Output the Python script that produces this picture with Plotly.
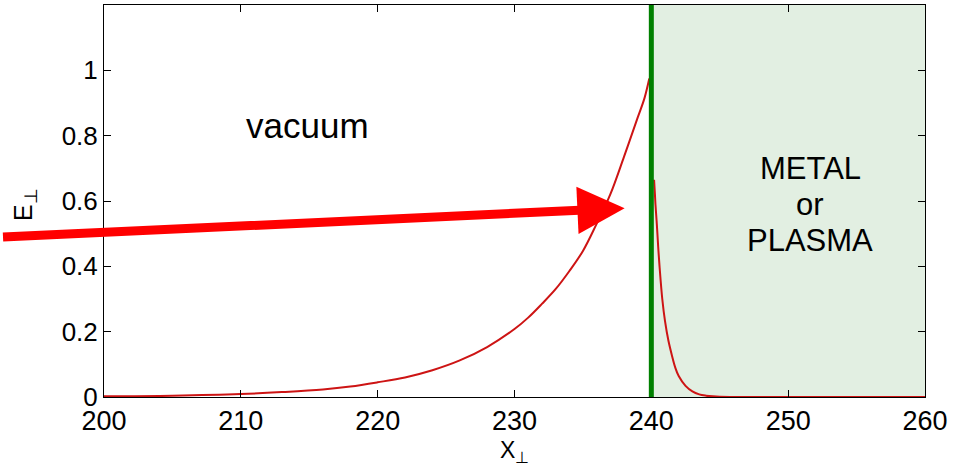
import plotly.graph_objects as go

# Field in vacuum (left of interface)
x_vac = [200, 205, 210, 213, 216, 218, 220, 222, 224, 226, 228, 230, 231, 232,
         233, 234, 235, 236, 237, 238, 239, 239.5, 239.85]
e_vac = [0.002, 0.004, 0.009, 0.015, 0.023, 0.032, 0.045, 0.060, 0.082, 0.112,
         0.153, 0.208, 0.243, 0.285, 0.330, 0.385, 0.447, 0.530, 0.620, 0.735,
         0.855, 0.915, 0.975]

# Field inside metal/plasma (right of interface)
x_met = [240.2, 240.25, 240.3, 240.4, 240.5, 240.6, 240.8, 241.0, 241.25, 241.5,
         241.75, 242.0, 242.5, 243.0, 243.5, 244.0, 244.5, 245.0, 250.0, 260.0]
e_met = [0.665, 0.63, 0.59, 0.53, 0.46, 0.40, 0.30, 0.232, 0.172, 0.128,
         0.090, 0.064, 0.034, 0.017, 0.008, 0.004, 0.002, 0.001, 0.0, 0.0]

x_ticks = [200, 210, 220, 230, 240, 250, 260]
y_ticks = [0, 0.2, 0.4, 0.6, 0.8, 1]
y_tick_text = ["0", "0.2", "0.4", "0.6", "0.8", "1"]

interface_x = 240
x_range = [200, 260]
y_range = [0, 1.2]

FONT = "Liberation Sans, Arial, Helvetica, sans-serif"
CURVE = "rgb(205,20,20)"

fig = go.Figure()
fig.add_trace(go.Scatter(x=x_vac, y=e_vac, mode="lines",
                         line=dict(color=CURVE, width=2, shape="spline"),
                         showlegend=False, hoverinfo="skip"))
fig.add_trace(go.Scatter(x=x_met, y=e_met, mode="lines",
                         line=dict(color=CURVE, width=2, shape="spline"),
                         showlegend=False, hoverinfo="skip"))

# shaded metal region and interface line
fig.add_shape(type="rect", xref="x", yref="y", x0=interface_x, x1=x_range[1],
              y0=y_range[0], y1=y_range[1], fillcolor="rgb(226,239,226)",
              line=dict(width=0), layer="below")
fig.add_shape(type="line", xref="x", yref="y", x0=interface_x, x1=interface_x,
              y0=y_range[0], y1=y_range[1], line=dict(color="rgb(0,128,0)", width=5),
              layer="above")

# arrow
fig.add_annotation(x=238.05, y=0.578, xref="x", yref="y", ax=-625, ay=29,
                   axref="pixel", ayref="pixel", showarrow=True, arrowhead=2,
                   arrowwidth=9, arrowsize=1.05, arrowcolor="rgb(255,0,0)", text=" ")

# labels
fig.add_annotation(x=214.9, y=0.83, xref="x", yref="y", text="vacuum",
                   showarrow=False, font=dict(family=FONT, size=35, color="black"))
for txt, yy in [("METAL", 0.70), ("or", 0.59), ("PLASMA", 0.48)]:
    fig.add_annotation(x=251.6, y=yy, xref="x", yref="y", text=txt,
                       showarrow=False, font=dict(family=FONT, size=31, color="black"))

# axis titles
fig.add_annotation(x=-0.118, y=0.49, xref="paper", yref="paper",
                   text="E<sub>⊥</sub>", textangle=-90, showarrow=False,
                   font=dict(family=FONT, size=25, color="black"))
fig.add_annotation(x=0.5, y=-0.096, xref="paper", yref="paper",
                   text="X<sub>⊥</sub>", showarrow=False, yanchor="top",
                   font=dict(family=FONT, size=23, color="black"))

fig.update_xaxes(range=x_range, tickvals=x_ticks, ticks="inside", ticklen=7,
                 tickcolor="black", showline=True, linecolor="black", linewidth=1,
                 mirror="ticks", showgrid=False, zeroline=False,
                 tickfont=dict(family=FONT, size=27, color="black"))
fig.update_yaxes(range=y_range, tickvals=y_ticks, ticktext=y_tick_text,
                 ticks="inside", ticklen=7, tickcolor="black", showline=True,
                 linecolor="black", linewidth=1, mirror="ticks", showgrid=False,
                 zeroline=False, tickfont=dict(family=FONT, size=26, color="black"))

fig.update_layout(width=959, height=466, margin=dict(l=104, r=34, t=5, b=69),
                  plot_bgcolor="white", paper_bgcolor="white")

fig.write_html("out.html", config={"displayModeBar": False},
               post_script="document.body.style.margin='0';document.body.style.overflow='hidden';")
